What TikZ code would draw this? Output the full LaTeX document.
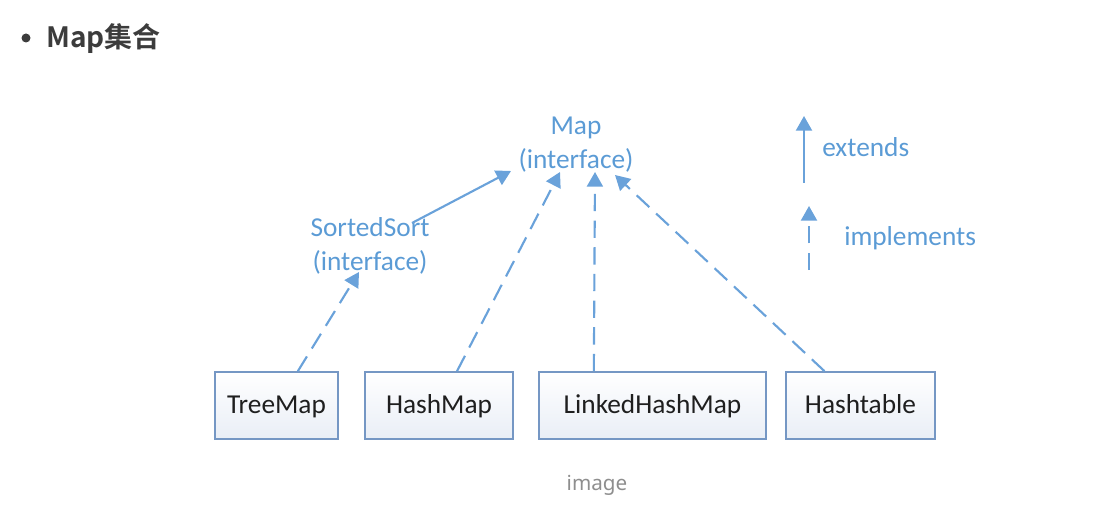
\documentclass[tikz,border=0pt]{standalone}
\usepackage{fontspec}
\setmainfont{Carlito}
\newfontfamily\hdfont{Noto Sans CJK SC Bold}
\newfontfamily\capfont{Noto Sans}
\usetikzlibrary{arrows.meta}
\definecolor{lblue}{HTML}{5B9BD5}
\definecolor{abl}{HTML}{6AA2DA}
\definecolor{bord}{HTML}{7597C4}
\definecolor{boxbot}{HTML}{E9EEF6}
\definecolor{hdgray}{HTML}{3C3C3C}
\definecolor{capgray}{HTML}{8E8E8E}
\begin{document}
\begin{tikzpicture}[x=0.75pt,y=-0.75pt,
  lbl/.style={text=lblue,font=\fontsize{20.5pt}{25.5pt}\selectfont,align=center,inner sep=0pt},
  cls/.style={draw=bord,line width=1.2pt,top color=white,bottom color=boxbot,
     minimum height=50.25pt,text=black!88,font=\fontsize{20.5pt}{24pt}\selectfont,
     inner sep=0pt,text height=14.5pt,text depth=2pt},
  ext/.style={draw=abl,line width=1.6pt,-{Triangle[length=11pt,width=12pt]}},
  impl/.style={ext,dash pattern=on 13pt off 7pt}]
\useasboundingbox (0,0) rectangle (1112,520);
% header
\fill[hdgray] (26,38) circle (4.5);
\node[anchor=base west,inner sep=0pt,text=hdgray,font=\hdfont\fontsize{21pt}{25pt}\selectfont] (hd) at (46,48) {Map集合};
% labels
\node[lbl] (map) at (576,145) {Map\\(interface)};
\node[lbl] (sorted) at (370,246) {SortedSort\\(interface)};
% boxes
\node[cls,minimum width=92.25pt] (treemap) at (276.5,405.5) {TreeMap};
\node[cls,minimum width=111pt] (hashmap) at (439,405.5) {HashMap};
\node[cls,minimum width=170.25pt] (linked) at (652.5,405.5) {LinkedHashMap};
\node[cls,minimum width=111.75pt] (hashtable) at (860.5,405.5) {Hashtable};
% connectors
\draw[ext] ([shift={(42,-23)}]sorted.center) -- ([shift={(-65,26)}]map.center);
\draw[impl] ([xshift=16pt]treemap.north) -- ([shift={(-11,26)}]sorted.center);
\draw[impl] ([xshift=13.5pt]hashmap.north) -- ([shift={(-16,27)}]map.center);
\draw[impl] ([xshift=-44pt]linked.north) -- ([shift={(19,27)}]map.center);
\draw[impl] ([xshift=-27pt]hashtable.north) -- ([shift={(39,30)}]map.center);
% legend
\coordinate (e1) at (804,183);
\coordinate (e2) at (804,116);
\draw[ext] (e1) -- (e2);
\node[lbl,anchor=west] (extl) at (822,147) {extends};
\coordinate (i1) at (809,274);
\coordinate (i2) at (809,206);
\draw[impl,dash phase=-3pt] (i1) -- (i2);
\node[lbl,anchor=west] (impll) at (844,238) {implements};
% caption
\node[anchor=base,inner sep=0pt,text=capgray,font=\capfont\fontsize{15.5pt}{18pt}\selectfont] (cap) at (597,490) {image};
\end{tikzpicture}
\end{document}
